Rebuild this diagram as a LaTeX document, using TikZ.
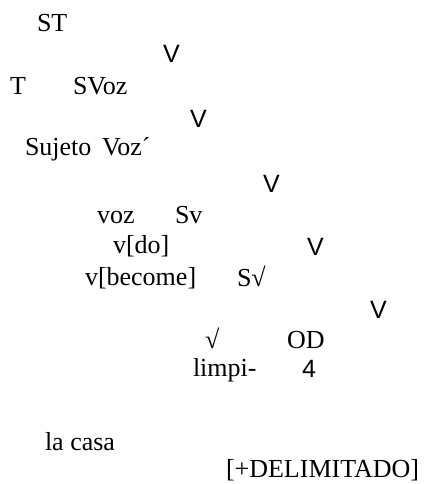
\documentclass[tikz,border=0pt]{standalone}
\usepackage{fontspec}
\setmainfont{Liberation Serif}
\newfontfamily\arialf{Liberation Sans}
\begin{document}
\begin{tikzpicture}[x=1pt,y=-1pt,
  lab/.style={anchor=base west,inner sep=0pt,outer sep=0pt,font=\fontsize{26}{30}\selectfont},
  vmark/.style={anchor=base west,inner sep=0pt,outer sep=0pt,font=\arialf\fontsize{25}{30}\selectfont}]
\useasboundingbox (0,0) rectangle (425,484);
\node[lab] (st) at (37,32) {ST};
\node[vmark] (v1) at (163,63) {V};
\node[lab] (t) at (10,95) {T};
\node[lab] (svoz) at (73,95) {SVoz};
\node[vmark] (v2) at (190,128) {V};
\node[lab] (suj) at (25,155) {Sujeto};
\node[lab] (vozp) at (102,155) {Voz´};
\node[vmark] (v3) at (263,192) {V};
\node[lab] (voz) at (97,223) {voz};
\node[lab] (sv) at (175,223) {Sv};
\node[lab] (vdo) at (113,253) {v[do]};
\node[vmark] (v4) at (307,255) {V};
\node[lab] (vbec) at (85,285) {v[become]};
\node[lab] (sroot) at (237,286) {S√};
\node[vmark] (v5) at (370,318) {V};
\node[lab] (root) at (205,348) {√};
\node[lab] (od) at (287,348) {OD};
\node[lab] (limpi) at (193,376) {limpi-};
\node[vmark] (four) at (302,377) {4};
\node[lab] (lacasa) at (45,450) {la casa};
\node[lab] (delim) at (226,477) {[+DELIMITADO]};
\end{tikzpicture}
\end{document}
